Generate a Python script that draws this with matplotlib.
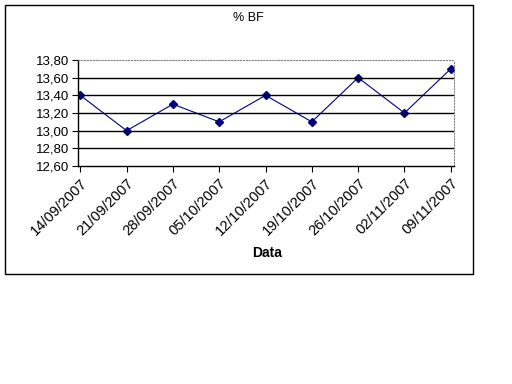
import matplotlib
matplotlib.use('Agg')
import matplotlib.pyplot as plt
from matplotlib.patches import Rectangle
from matplotlib.ticker import FuncFormatter

plt.rcParams['font.family'] = ['Liberation Sans', 'DejaVu Sans']

# data
dates = ['14/09/2007', '21/09/2007', '28/09/2007', '05/10/2007', '12/10/2007',
         '19/10/2007', '26/10/2007', '02/11/2007', '09/11/2007']
bf = [13.4, 13.0, 13.3, 13.1, 13.4, 13.1, 13.6, 13.2, 13.7]
yticks = [12.6, 12.8, 13.0, 13.2, 13.4, 13.6, 13.8]

fig = plt.figure(figsize=(5.12, 3.84), dpi=100)
# outer chart frame
fig.patches.append(Rectangle((5 / 512, 1 - 274 / 384), 468 / 512, 269 / 384,
                             transform=fig.transFigure, fill=False,
                             edgecolor='black', linewidth=1))

ax = fig.add_axes([77.5 / 512, 1 - 166 / 384, (454 - 77.5) / 512, 106 / 384])
x = range(len(dates))
ax.plot(x, bf, color='#000080', linewidth=0.8, marker='D', markersize=4.2)

ax.set_ylim(12.6, 13.8)
ax.set_yticks(yticks)
ax.yaxis.set_major_formatter(FuncFormatter(lambda v, p: f'{v:.2f}'.replace('.', ',')))
ax.set_xlim(-0.06, 8.07)
ax.set_xticks(list(x))
ax.set_xticklabels(dates, rotation=45, ha='right', va='top', rotation_mode='anchor',
                   fontsize=10.5)
ax.tick_params(axis='y', labelsize=9.5, length=4, direction='out', pad=2)
ax.tick_params(axis='x', length=4, direction='out', pad=3)
for v in yticks[1:-1]:
    ax.axhline(v, color='black', linewidth=1)

ax.spines['top'].set_color('gray')
ax.spines['top'].set_linestyle(':')
ax.spines['right'].set_color('gray')
ax.spines['right'].set_linestyle(':')
ax.spines['left'].set_linewidth(1)
ax.spines['bottom'].set_linewidth(1)

fig.text(248 / 512, 1 - 18 / 384, '% BF', ha='center', va='center', fontsize=9)
fig.text(267 / 512, 1 - 253 / 384, 'Data', ha='center', va='center', fontsize=10,
         fontweight='bold')

fig.savefig('out.png', dpi=100)
